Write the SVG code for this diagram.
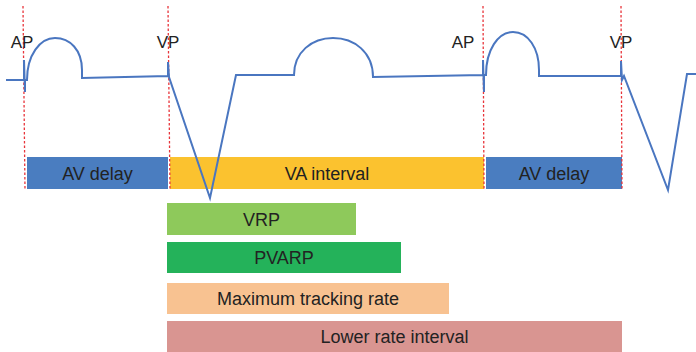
<svg xmlns="http://www.w3.org/2000/svg" width="696" height="352" viewBox="0 0 696 352">
<style>
.lbl{font-family:"Liberation Sans",Arial,sans-serif;font-size:17px;fill:#222;text-anchor:middle}
.bl{font-size:18px}
.bar{stroke:none}
.ecg{fill:none;stroke:#4A76C0;stroke-width:2;stroke-linejoin:miter}
.mark{stroke:#E8343A;stroke-width:1.3;stroke-dasharray:2.5,2}
</style>
<rect width="696" height="352" fill="#fff"/>
<g id="avdelay1"><rect class="bar" x="27" y="157" width="141" height="32" fill="#4A7DC0"/><text class="lbl bl" x="97.5" y="179.5">AV delay</text></g>
<g id="vainterval"><rect class="bar" x="170" y="157" width="314" height="32" fill="#FBC22F"/><text class="lbl bl" x="327" y="179.5">VA interval</text></g>
<g id="avdelay2"><rect class="bar" x="486" y="157" width="136" height="32" fill="#4A7DC0"/><text class="lbl bl" x="554" y="179.5">AV delay</text></g>
<g id="vrp"><rect class="bar" x="167" y="203" width="189" height="32" fill="#8EC95B"/><text class="lbl bl" x="261.5" y="225.5">VRP</text></g>
<g id="pvarp"><rect class="bar" x="167" y="242" width="234" height="31" fill="#24B25A"/><text class="lbl bl" x="284" y="264">PVARP</text></g>
<g id="mtr"><rect class="bar" x="167" y="283" width="282" height="31" fill="#F8C291"/><text class="lbl bl" x="308" y="305">Maximum tracking rate</text></g>
<g id="lri"><rect class="bar" x="167" y="321" width="455" height="31" fill="#D99591"/><text class="lbl bl" x="394.5" y="343">Lower rate interval</text></g>
<g id="markers">
<line class="mark" x1="23" y1="6" x2="25" y2="190"/>
<line class="mark" x1="168" y1="6" x2="170" y2="190"/>
<line class="mark" x1="483" y1="6" x2="484" y2="190"/>
<line class="mark" x1="621" y1="6" x2="622" y2="190"/>
</g>
<g id="ecg">
<path class="ecg" d="M6,80 L24,80 L24,60 L25,92 L25,80 L27,80 C27,55 40,38 55,38 C70,38 82,50 82,70 L82,78 L168,76 L168,62 L169,77 L210,198 L236,75 L294,75 C294,52 312,38 333,38 C354,38 373,52 373,77 L483,75 L483,60 L484,92 L484,75 L486,75 C486,50 498,32 513,32 C528,32 539,48 539,70 L539,76 L621,76 L621,61 L622,80 L624,76 L668,190 L687,74 L696,74"/>
</g>
<g id="ap1"><text class="lbl" x="22" y="48">AP</text></g>
<g id="vp1"><text class="lbl" x="168" y="48">VP</text></g>
<g id="ap2"><text class="lbl" x="463" y="48">AP</text></g>
<g id="vp2"><text class="lbl" x="621" y="48">VP</text></g>
</svg>
